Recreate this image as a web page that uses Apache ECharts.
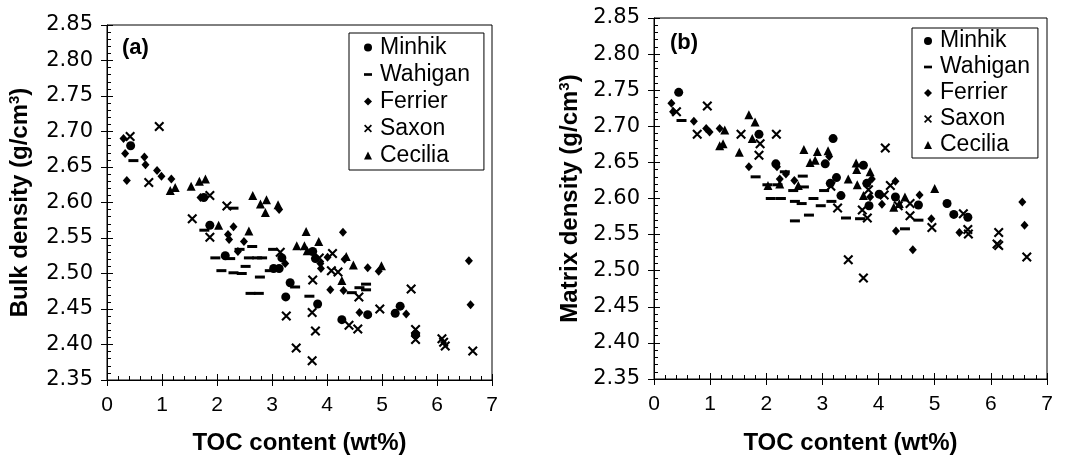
<!DOCTYPE html>
<html>
<head>
<meta charset="utf-8">
<script src="https://cdn.jsdelivr.net/npm/echarts@6/dist/echarts.min.js"></script>
<style>
  html, body { margin: 0; padding: 0; background: #fff; }
  #chart { width: 1071px; height: 460px; }
</style>
</head>
<body>
<div id="chart"></div>
<script>
// Formation names (legend order)
const formations = ['Minhik', 'Wahigan', 'Ferrier', 'Saxon', 'Cecilia'];

// Panel (a): bulk density vs TOC, [TOC wt%, g/cm3]
const bulkMinhik = [[0.43,2.680],[1.87,2.568],[1.76,2.607],[2.15,2.525],[3.03,2.507],[3.13,2.507],[3.18,2.522],[3.33,2.487],[3.25,2.467],[3.74,2.531],[3.79,2.521],[3.83,2.457],[4.27,2.435],[4.74,2.442],[5.24,2.444],[5.33,2.454],[5.61,2.414]];
const bulkWahigan = [[0.48,2.659],[1.77,2.561],[1.97,2.522],[2.08,2.504],[2.30,2.592],[2.24,2.521],[2.30,2.501],[2.41,2.534],[2.45,2.500],[2.52,2.510],[2.58,2.522],[2.73,2.522],[2.82,2.522],[2.64,2.538],[2.61,2.472],[2.76,2.472],[2.78,2.495],[2.96,2.504],[3.02,2.534],[3.42,2.481],[3.68,2.468],[4.45,2.473],[4.59,2.480],[4.71,2.485],[4.71,2.477]];
const bulkFerrier = [[0.30,2.690],[0.33,2.669],[0.36,2.631],[0.68,2.664],[0.70,2.653],[0.91,2.645],[0.99,2.637],[1.17,2.633],[1.70,2.607],[2.20,2.555],[2.22,2.548],[2.30,2.566],[2.38,2.531],[2.49,2.545],[3.13,2.590],[3.24,2.514],[3.88,2.514],[3.89,2.507],[4.01,2.523],[4.06,2.477],[4.29,2.558],[4.32,2.520],[4.30,2.476],[4.59,2.445],[4.74,2.508],[4.94,2.503],[5.44,2.443],[6.58,2.518],[6.61,2.456]];
const bulkSaxon = [[0.42,2.693],[0.76,2.628],[0.95,2.707],[1.55,2.577],[1.87,2.610],[1.87,2.551],[2.18,2.595],[3.15,2.530],[3.26,2.440],[3.44,2.395],[3.74,2.491],[3.73,2.445],[3.79,2.419],[3.73,2.377],[3.86,2.522],[4.10,2.528],[4.08,2.504],[4.20,2.502],[4.40,2.427],[4.56,2.422],[4.58,2.467],[4.96,2.450],[5.53,2.478],[5.61,2.421],[5.61,2.407],[6.09,2.408],[6.12,2.403],[6.15,2.398],[6.65,2.391]];
const bulkCecilia = [[1.15,2.617],[1.24,2.621],[1.53,2.623],[1.68,2.630],[1.79,2.633],[2.03,2.568],[2.58,2.560],[2.65,2.610],[2.79,2.598],[2.90,2.604],[2.88,2.586],[3.11,2.597],[3.45,2.539],[3.62,2.559],[3.59,2.539],[3.64,2.532],[3.85,2.545],[4.35,2.524],[4.48,2.512],[4.27,2.490],[4.99,2.511]];

// Panel (b): matrix density vs TOC, [TOC wt%, g/cm3]
const matrixMinhik = [[0.44,2.747],[1.87,2.689],[2.17,2.648],[3.19,2.683],[3.05,2.648],[3.14,2.621],[3.25,2.629],[3.33,2.604],[3.73,2.646],[3.79,2.621],[3.83,2.590],[4.01,2.606],[4.30,2.602],[4.71,2.591],[5.22,2.593],[5.34,2.578],[5.59,2.574]];
const matrixWahigan = [[0.49,2.708],[1.81,2.630],[2.02,2.619],[2.08,2.600],[2.20,2.619],[2.26,2.600],[2.33,2.637],[2.48,2.611],[2.51,2.596],[2.51,2.569],[2.65,2.631],[2.67,2.616],[2.63,2.593],[2.76,2.577],[2.84,2.600],[2.97,2.590],[3.03,2.611],[3.16,2.596],[3.42,2.573],[3.67,2.572],[4.47,2.558],[4.71,2.570]];
const matrixFerrier = [[0.31,2.732],[0.34,2.720],[0.71,2.707],[0.93,2.697],[0.99,2.692],[1.17,2.697],[1.69,2.644],[2.19,2.644],[2.24,2.627],[2.35,2.634],[2.50,2.625],[3.12,2.658],[3.85,2.602],[3.88,2.627],[4.06,2.592],[4.30,2.624],[4.31,2.555],[4.61,2.529],[4.73,2.605],[4.94,2.572],[5.44,2.553],[6.56,2.595],[6.60,2.563]];
const matrixSaxon = [[0.40,2.720],[0.77,2.689],[0.95,2.728],[1.55,2.689],[1.89,2.676],[1.87,2.660],[2.18,2.689],[3.15,2.617],[3.27,2.587],[3.46,2.515],[3.71,2.584],[3.73,2.490],[3.80,2.573],[3.82,2.612],[4.12,2.670],[4.21,2.618],[4.10,2.605],[4.35,2.590],[4.56,2.576],[4.56,2.593],[4.95,2.560],[5.51,2.579],[5.60,2.551],[5.59,2.557],[6.11,2.537],[6.14,2.535],[6.14,2.553],[6.64,2.519]];
const matrixCecilia = [[1.17,2.673],[1.23,2.676],[1.26,2.695],[1.52,2.664],[1.69,2.716],[1.80,2.706],[1.75,2.683],[2.03,2.618],[2.24,2.620],[2.57,2.618],[2.67,2.668],[2.78,2.650],[2.87,2.653],[2.91,2.665],[3.10,2.666],[3.46,2.627],[3.60,2.649],[3.61,2.640],[3.62,2.619],[3.73,2.604],[3.85,2.637],[4.27,2.588],[4.47,2.602],[4.37,2.593],[5.00,2.614]];

const panelLabels = ['(a)', '(b)'];
const yTitles = ['Bulk density (g/cm{s|3})', 'Matrix density (g/cm{s|3})'];
const xTitle = 'TOC content (wt%)';

// Marker shapes
const crossPath = 'path://M0,1.5L1.5,0L10,8.5L8.5,10Z M8.5,0L10,1.5L1.5,10L0,8.5Z';
const dashPath = 'path://M0,0H9V3H0Z';
const markers = {
  Minhik:  { symbol: 'circle',   size: 9 },
  Wahigan: { symbol: 'rect',     size: [10, 3] },
  Ferrier: { symbol: 'diamond',  size: [8, 9] },
  Saxon:   { symbol: crossPath,  size: 10 },
  Cecilia: { symbol: 'triangle', size: [9, 9] }
};
const legendIcons = {
  Minhik: 'circle', Wahigan: dashPath, Ferrier: 'diamond', Saxon: crossPath, Cecilia: 'triangle'
};

const panelData = [
  [bulkMinhik, bulkWahigan, bulkFerrier, bulkSaxon, bulkCecilia],
  [matrixMinhik, matrixWahigan, matrixFerrier, matrixSaxon, matrixCecilia]
];

const SANS = 'Liberation Sans, Arial, sans-serif';
const grids = [
  { left: 107, top: 25, width: 385, height: 359 },
  { left: 654, top: 18, width: 393, height: 370 }
];

const xAxes = [], yAxes = [];
grids.forEach(function (g, i) {
  // main axes: labels, line, inward ticks
  xAxes.push({
    gridIndex: i, type: 'value', min: 0, max: 7, interval: 1, position: 'bottom',
    name: xTitle, nameLocation: 'middle', nameGap: i === 0 ? 51 : 52,
    nameTextStyle: { fontFamily: SANS, fontWeight: 'bold', fontSize: 24, color: '#000' },
    axisLine: { onZero: false, lineStyle: { color: '#000', width: 1 } },
    axisTick: { inside: true, length: 6, lineStyle: { color: '#000' } },
    minorTick: { show: true, splitNumber: 5, length: 4, lineStyle: { color: '#000' } },
    axisLabel: { fontFamily: SANS, fontSize: 21, color: '#000', margin: 15 },
    splitLine: { show: false }
  });
  yAxes.push({
    gridIndex: i, type: 'value', min: 2.35, max: 2.85, interval: 0.05, position: 'left',
    name: yTitles[i], nameLocation: 'middle', nameRotate: 90, nameGap: i === 0 ? 73 : 70,
    nameTextStyle: {
      fontFamily: SANS, fontWeight: 'bold', fontSize: 24, color: '#000',
      rich: { s: { fontFamily: SANS, fontWeight: 'bold', fontSize: 15, color: '#000', verticalAlign: 'top', lineHeight: 27 } }
    },
    axisLine: { onZero: false, lineStyle: { color: '#000', width: 1 } },
    axisTick: { inside: true, length: 6, lineStyle: { color: '#000' } },
    minorTick: { show: true, splitNumber: 5, length: 4, lineStyle: { color: '#000' } },
    axisLabel: { fontFamily: 'DejaVu Sans, sans-serif', fontSize: 21, color: '#000', margin: 14,
      formatter: function (v) { return v.toFixed(2); } },
    splitLine: { show: false }
  });
  // companion axes: outward half of the major ticks
  xAxes.push({
    gridIndex: i, type: 'value', min: 0, max: 7, interval: 1, position: 'bottom',
    axisLine: { show: false, onZero: false },
    axisTick: { show: true, inside: false, length: 6, lineStyle: { color: '#000' } },
    axisLabel: { show: false }, splitLine: { show: false }
  });
  yAxes.push({
    gridIndex: i, type: 'value', min: 2.35, max: 2.85, interval: 0.05, position: 'left',
    axisLine: { show: false, onZero: false },
    axisTick: { show: true, inside: false, length: 6, lineStyle: { color: '#000' } },
    axisLabel: { show: false }, splitLine: { show: false }
  });
});

const series = [];
panelData.forEach(function (sets, p) {
  sets.forEach(function (pts, k) {
    const name = formations[k];
    series.push({
      type: 'scatter', name: name,
      xAxisIndex: p * 2, yAxisIndex: p * 2,
      symbol: markers[name].symbol, symbolSize: markers[name].size,
      itemStyle: { color: '#000', opacity: 1 },
      emphasis: { disabled: true },
      data: pts
    });
  });
});

function makeLegend(left, top, padding, lineHeight) {
  return {
    orient: 'vertical', left: left, top: top,
    data: formations.map(function (n) { return { name: n, icon: legendIcons[n] }; }),
    itemWidth: 8, itemHeight: 8, itemGap: 0,
    padding: padding,
    borderColor: '#000', borderWidth: 1, borderRadius: 0, backgroundColor: '#fff',
    selectedMode: false,
    textStyle: { fontFamily: SANS, fontSize: 23, color: '#000', lineHeight: lineHeight, padding: [0, 0, 0, 3] }
  };
}

const chart = echarts.init(document.getElementById('chart'), null, { renderer: 'canvas' });
chart.setOption({
  animation: false,
  backgroundColor: '#fff',
  grid: grids.map(function (g) {
    return Object.assign({ show: true, borderColor: '#000', borderWidth: 1, backgroundColor: 'transparent', containLabel: false }, g);
  }),
  xAxis: xAxes,
  yAxis: yAxes,
  legend: [
    makeLegend(349, 33, [1, 14, 1, 15], 27),
    makeLegend(912, 28, [0, 8, 0, 12], 26)
  ],
  graphic: [
    { type: 'text', left: 122, top: 37, style: { text: panelLabels[0], font: 'bold 22px Liberation Sans', fill: '#000' } },
    { type: 'text', left: 670, top: 32, style: { text: panelLabels[1], font: 'bold 22px Liberation Sans', fill: '#000' } }
  ],
  series: series
});
</script>
</body>
</html>
